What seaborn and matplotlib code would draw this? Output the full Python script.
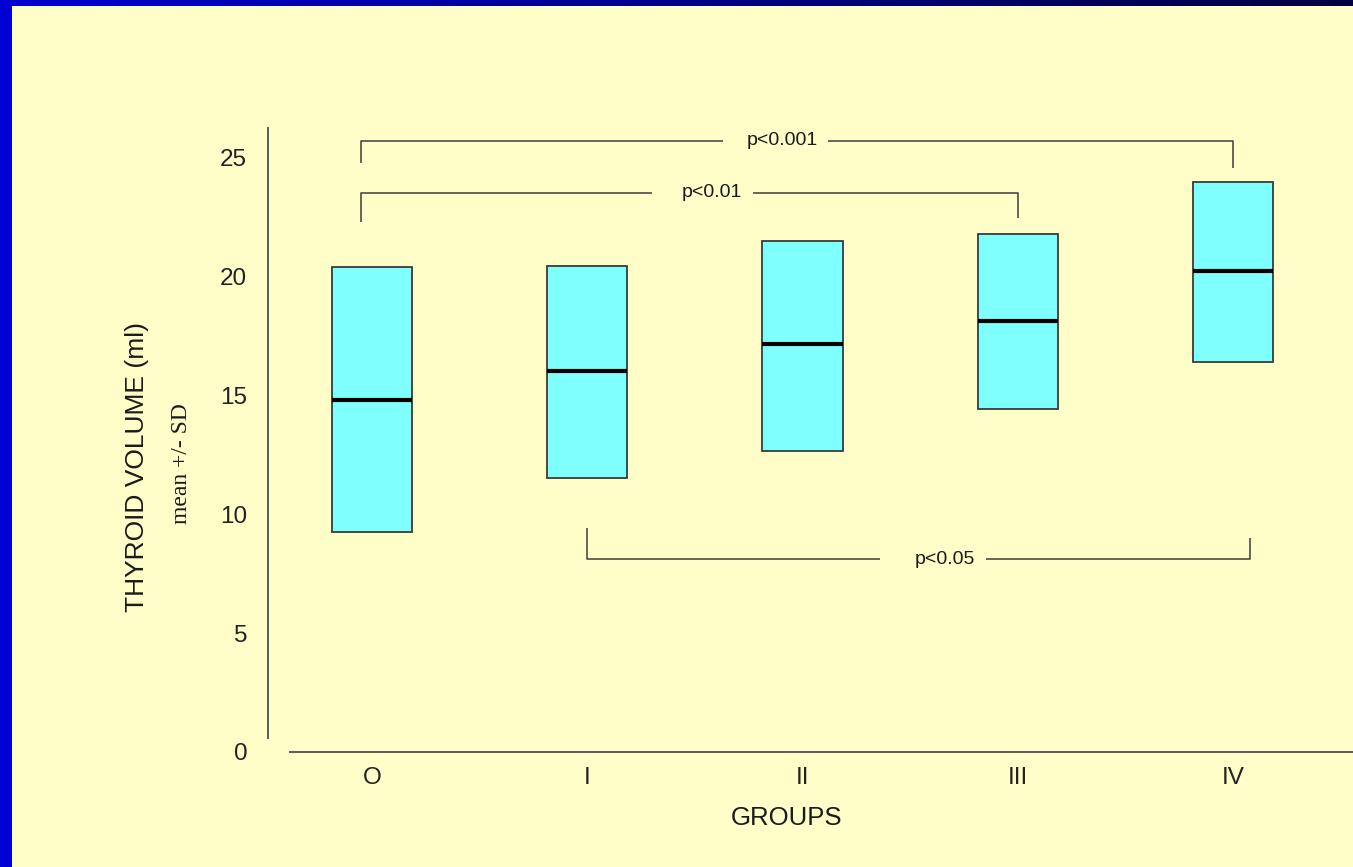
import numpy as np
import pandas as pd
import matplotlib
matplotlib.use("Agg")
import matplotlib.pyplot as plt
import seaborn as sns
from matplotlib.patches import Rectangle
from matplotlib.colors import LinearSegmentedColormap

# ---- data ----
groups = ["O", "I", "II", "III", "IV"]
means = [14.8, 16.05, 17.15, 18.15, 20.25]
sd_low = [9.25, 11.55, 12.65, 14.45, 16.4]    # mean - SD
sd_high = [20.4, 20.45, 21.5, 21.8, 24.0]     # mean + SD
y_ticks = [0, 5, 10, 15, 20, 25]

# significance brackets: (label, x_left, x_right, y, left_end, right_end, text_x, gap_lo, gap_hi)
brackets = [
    ("p<0.001", -0.05, 4.0, 25.72, 24.79, 24.58, 1.905, 1.63, 2.12),
    ("p<0.01", -0.05, 3.0, 23.53, 22.30, 22.47, 1.58, 1.30, 1.77),
    ("p<0.05", 1.0, 4.08, 8.12, 9.43, 9.00, 2.66, 2.36, 2.85),
]

# build a long table whose quartiles are mean-SD / mean / mean+SD
rows = []
for g, lo, m, hi in zip(groups, sd_low, means, sd_high):
    for v in (lo, lo, m, hi, hi):
        rows.append({"group": g, "value": v})
df = pd.DataFrame(rows)

sns.set_theme(style="white")
plt.rcParams["font.family"] = ["Liberation Sans", "DejaVu Sans"]

W, H = 1353, 867
YELLOW = "#FFFDC8"
BLUE = "#0000D2"
fig = plt.figure(figsize=(W / 100, H / 100), dpi=100)
fig.patch.set_facecolor(BLUE)

# yellow slide background as a full-figure axes underneath
bgax = fig.add_axes([0, 0, 1, 1], zorder=-10)
bgax.axis("off")
bgax.add_patch(Rectangle((12, 6), W - 12, H - 6, facecolor=YELLOW, edgecolor="none"))
cmap = LinearSegmentedColormap.from_list("band", [BLUE, "#00008C", "#000040"])
bgax.imshow(np.linspace(0, 1, 256)[None, :], aspect="auto", cmap=cmap,
            extent=(0, W, 6, 0))
bgax.set_xlim(0, W)
bgax.set_ylim(H, 0)

ax = fig.add_axes([268 / W, 1 - 752 / H, (1353 - 268) / W, (752 - 128) / H])
ax.set_facecolor("none")

sns.boxplot(data=df, x="group", y="value", order=groups, ax=ax, width=0.372,
            whis=0, showcaps=False, showfliers=False,
            boxprops=dict(facecolor="#80FFFF", edgecolor="#3a3a3a", linewidth=1.3),
            medianprops=dict(color="black", linewidth=3),
            whiskerprops=dict(linewidth=0), linecolor="#3a3a3a")

ax.set_xlim(-0.483, 4.557)
ax.set_ylim(0, 26.26)
ax.set_yticks(y_ticks)
ax.set_yticklabels([str(t) for t in y_ticks])
ax.set_xlabel("")
ax.set_ylabel("")
ax.tick_params(axis="both", length=0, labelsize=17.5, colors="#222222")
ax.tick_params(axis="y", pad=15)
ax.tick_params(axis="x", pad=11)

for s in ["top", "right"]:
    ax.spines[s].set_visible(False)
for s in ["left", "bottom"]:
    ax.spines[s].set_color("#5a5a5a")
    ax.spines[s].set_linewidth(1.4)
ax.spines["left"].set_bounds(0.59, 26.26)
ax.spines["bottom"].set_bounds(-0.381, 4.557)

# brackets
lc = "#3c3c3c"
for lab, xl, xr, y, le, re, tx, g0, g1 in brackets:
    ax.plot([xl, xl, g0], [le, y, y], color=lc, lw=1.1, solid_capstyle="butt")
    ax.plot([g1, xr, xr], [y, y, re], color=lc, lw=1.1, solid_capstyle="butt")
    ax.text(tx, y, lab, ha="center", va="center", fontsize=14, color="#1a1a1a")

# axis labels
fig.text(137 / W, 1 - 467 / H, "THYROID VOLUME (ml)", rotation=90, ha="center", va="center",
         fontsize=19, color="#1a1a1a")
fig.text(181 / W, 1 - 464 / H, "mean +/- SD", rotation=90, ha="center", va="center",
         fontsize=17, color="#1a1a1a", family=["Liberation Serif", "DejaVu Serif"])
fig.text(786 / W, 1 - 818 / H, "GROUPS", ha="center", va="center", fontsize=18.5, color="#1a1a1a")

fig.savefig("out.png", dpi=100, facecolor=fig.get_facecolor())
